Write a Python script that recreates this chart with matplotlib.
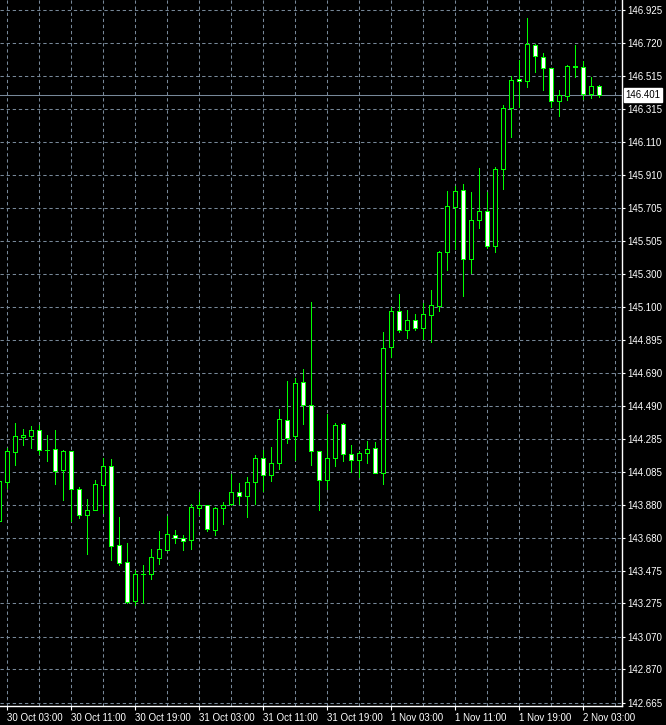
import matplotlib
matplotlib.use("Agg")
import matplotlib.pyplot as plt
from matplotlib.patches import Rectangle
import matplotlib.transforms as mtransforms

# ---------------- data (H1 candles, first one partially visible) ----------------
bar_index = list(range(-1, 75))

opens = [143.784, 144.024, 144.209, 144.300, 144.306, 144.340, 144.220, 144.223, 144.097, 144.212,
         143.979, 143.821, 143.848, 144.005, 144.118, 143.633, 143.528, 143.292, 143.454, 143.458,
         143.556, 143.606, 143.694, 143.678, 143.667, 143.864, 143.880, 143.727, 143.860, 143.885,
         143.958, 143.934, 144.020, 144.167, 144.063, 144.137, 144.401, 144.303, 144.635, 144.492,
         144.210, 144.032, 144.167, 144.376, 144.192, 144.155, 144.198, 144.229, 144.075, 144.853,
         145.071, 144.958, 145.016, 144.970, 145.050, 145.105, 145.434, 145.710, 145.815, 145.394,
         145.630, 145.686, 145.471, 145.944, 146.319, 146.497, 146.485, 146.708, 146.632, 146.565,
         146.362, 146.396, 146.577, 146.571, 146.405, 146.454]
highs = [144.040, 144.229, 144.386, 144.348, 144.366, 144.370, 144.311, 144.341, 144.217, 144.215,
         143.993, 143.917, 144.034, 144.167, 144.163, 143.807, 143.645, 143.481, 143.512, 143.610,
         143.721, 143.813, 143.727, 143.694, 143.887, 143.958, 143.880, 143.865, 143.901, 144.071,
         144.014, 144.052, 144.188, 144.218, 144.239, 144.470, 144.643, 144.659, 144.715, 145.130,
         144.212, 144.440, 144.384, 144.384, 144.247, 144.210, 144.272, 144.266, 144.942, 145.099,
         145.177, 145.079, 145.054, 145.120, 145.202, 145.442, 145.811, 145.841, 145.854, 145.803,
         145.950, 145.803, 145.956, 146.339, 146.517, 146.616, 146.876, 146.714, 146.659, 146.567,
         146.431, 146.585, 146.708, 146.611, 146.509, 146.464]
lows = [143.764, 143.983, 144.126, 144.249, 144.233, 144.194, 144.153, 144.009, 143.911, 143.784,
        143.802, 143.581, 143.847, 143.833, 143.542, 143.512, 143.278, 143.266, 143.276, 143.425,
        143.520, 143.604, 143.649, 143.604, 143.612, 143.819, 143.721, 143.696, 143.762, 143.883,
        143.887, 143.807, 143.885, 143.966, 144.030, 144.100, 144.260, 144.159, 144.380, 144.126,
        143.850, 143.981, 144.122, 144.153, 144.085, 144.054, 144.140, 144.074, 144.009, 144.792,
        144.946, 144.909, 144.958, 144.903, 144.884, 145.075, 145.327, 145.456, 145.167, 145.305,
        145.585, 145.458, 145.434, 145.821, 146.144, 146.329, 146.452, 146.544, 146.433, 146.329,
        146.273, 146.372, 146.509, 146.374, 146.384, 146.388]
closes = [144.025, 144.212, 144.303, 144.309, 144.340, 144.217, 144.217, 144.091, 144.212, 143.977,
          143.821, 143.850, 144.008, 144.118, 143.626, 143.526, 143.282, 143.454, 143.458, 143.561,
          143.608, 143.700, 143.676, 143.661, 143.868, 143.879, 143.731, 143.864, 143.880, 143.958,
          143.934, 144.020, 144.167, 144.063, 144.137, 144.407, 144.294, 144.628, 144.493, 144.211,
          144.032, 144.167, 144.370, 144.192, 144.155, 144.198, 144.223, 144.075, 144.844, 145.071,
          144.958, 145.016, 144.970, 145.053, 145.108, 145.434, 145.716, 145.809, 145.394, 145.630,
          145.686, 145.471, 145.944, 146.319, 146.491, 146.485, 146.714, 146.639, 146.565, 146.362,
          146.399, 146.577, 146.573, 146.405, 146.454, 146.401]

time_labels = ["30 Oct 03:00", "30 Oct 11:00", "30 Oct 19:00", "31 Oct 03:00", "31 Oct 11:00",
               "31 Oct 19:00", "1 Nov 03:00", "1 Nov 11:00", "1 Nov 19:00", "2 Nov 03:00"]
time_label_bars = [0, 8, 16, 24, 32, 40, 48, 56, 64, 72]
grid_bars = list(range(0, 77, 4))

price_labels = ["146.925", "146.720", "146.515", "146.315", "146.110", "145.910", "145.705",
                "145.505", "145.300", "145.100", "144.895", "144.690", "144.490", "144.285",
                "144.085", "143.880", "143.680", "143.475", "143.275", "143.070", "142.870",
                "142.665"]
current_price = 146.401

# ---------------- styling ----------------
LIME = "#00ff00"
GRID = "#778899"
plt.rcParams["font.family"] = ["Liberation Sans", "DejaVu Sans"]
plt.rcParams["lines.scale_dashes"] = False

W, H = 666, 725
fig = plt.figure(figsize=(W / 100, H / 100), dpi=100, facecolor="black")
ax = fig.add_axes([0, 19 / H, 622 / W, 706 / H], facecolor="black")

ax.set_xlim(-0.9125, 76.8375)
ax.set_ylim(142.6448, 146.9846)

# grid
ax.set_yticks([float(s) for s in price_labels])
ax.set_yticklabels(price_labels)
ax.set_xticks(time_label_bars)
ax.set_xticklabels(time_labels)
ax.set_xticks(grid_bars, minor=True)
ax.grid(True, which="both", axis="x", color=GRID, linewidth=0.75, linestyle=(0, (2.4, 2.0)))
ax.grid(True, which="major", axis="y", color=GRID, linewidth=0.75, linestyle=(0, (2.4, 2.0)))
ax.set_axisbelow(True)

# current price line
ax.axhline(current_price, color=GRID, linewidth=0.75, zorder=1.5)

# candles
LW = 0.72  # one pixel
body_w = 0.5
for x, o, h, l, c in zip(bar_index, opens, highs, lows, closes):
    ax.vlines(x, l, h, color=LIME, linewidth=LW, zorder=2, antialiased=False)
    bull = c >= o
    ax.add_patch(Rectangle((x - body_w / 2, min(o, c)), body_w, abs(c - o),
                           facecolor="black" if bull else "white",
                           edgecolor=LIME, linewidth=LW, zorder=3, antialiased=False))

# axes / ticks
for s in ("left", "top"):
    ax.spines[s].set_visible(False)
for s in ("right", "bottom"):
    ax.spines[s].set_color("white")
    ax.spines[s].set_linewidth(1.0)
ax.yaxis.tick_right()
ax.tick_params(axis="y", which="major", colors="white", length=2.5, width=0.8, pad=1.5,
               labelsize=7)
ax.tick_params(axis="x", which="major", colors="white", length=3, width=0.8, pad=2,
               labelsize=7)
ax.tick_params(axis="x", which="minor", length=0)
for lab in ax.get_xticklabels():
    lab.set_ha("left")

# current price tag
trans = mtransforms.blended_transform_factory(ax.transAxes, ax.transData)
ax.text(1.0 + 3.5 / 622, current_price, f"{current_price:.3f}", transform=trans,
        ha="left", va="center", fontsize=7, color="black", zorder=10, clip_on=False,
        bbox=dict(facecolor="white", edgecolor="white", boxstyle="square,pad=0.2"))

fig.savefig("out.png", dpi=100, facecolor="black")
